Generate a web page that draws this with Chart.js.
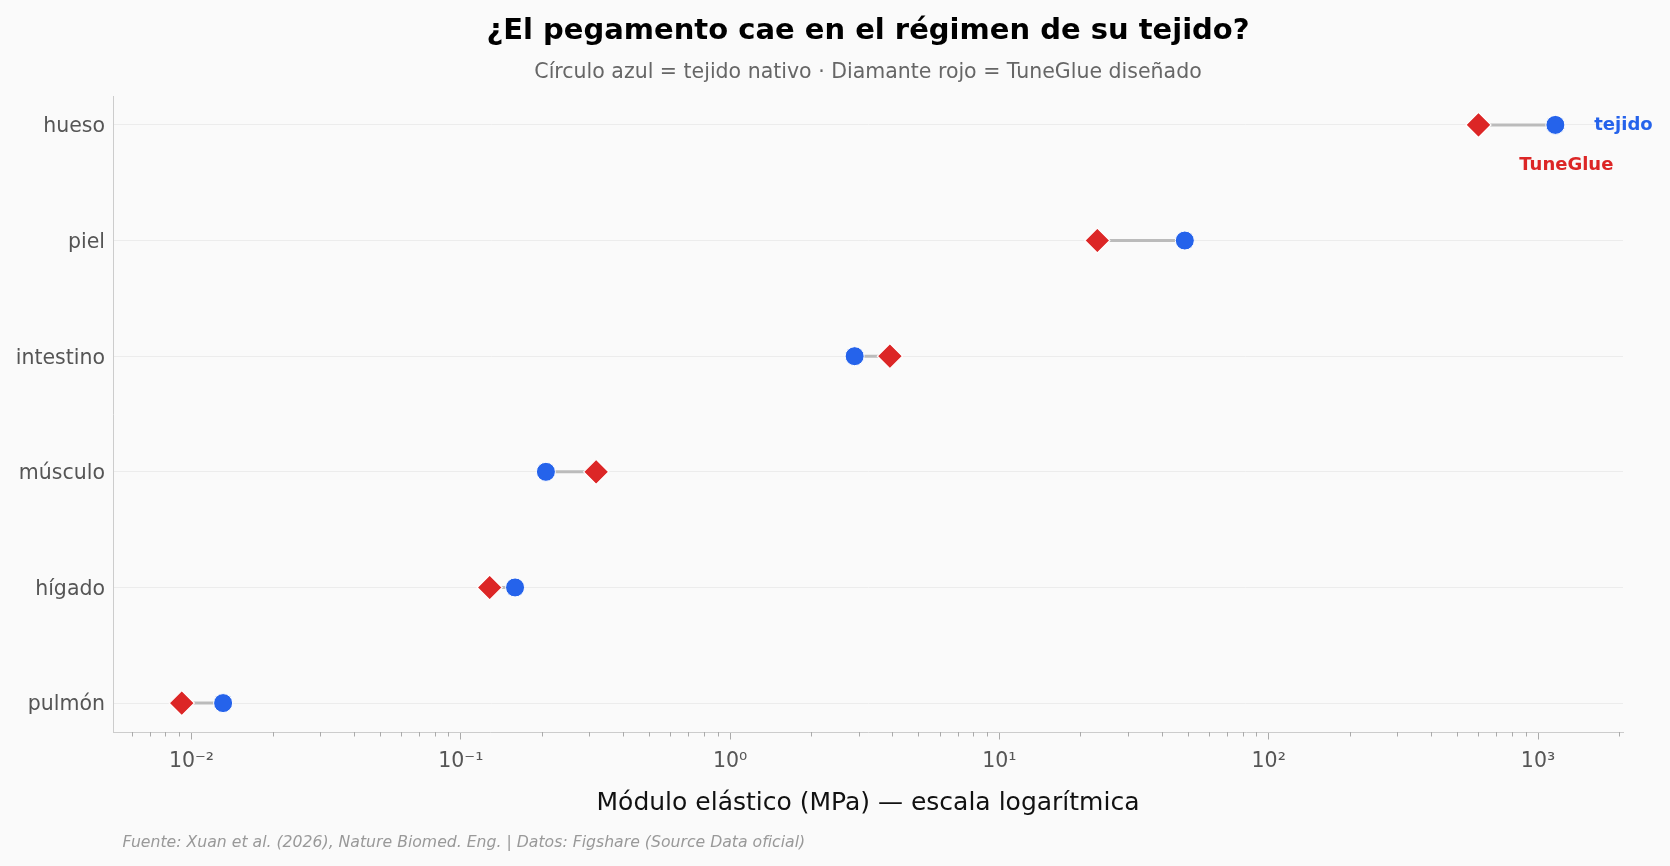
<!DOCTYPE html>
<html lang="es">
<head>
<meta charset="utf-8">
<title>¿El pegamento cae en el régimen de su tejido?</title>
<script src="https://cdn.jsdelivr.net/npm/chart.js@4.4.1/dist/chart.umd.min.js"></script>
<style>
  html, body { margin: 0; padding: 0; background: #fafafa; }
  #wrap { width: 1670px; height: 866px; }
</style>
</head>
<body>
<div id="wrap"><canvas id="glueChart"></canvas></div>
<script>
// Tejidos, de abajo hacia arriba
const tejidos = ["pulmón", "hígado", "músculo", "intestino", "piel", "hueso"];
// Módulo elástico del tejido nativo (MPa)
const moduloTejido = [0.0131, 0.159, 0.207, 2.90, 48.8, 1160];
// Módulo elástico de TuneGlue diseñado (MPa)
const moduloTuneGlue = [0.0092, 0.128, 0.318, 3.92, 23.1, 601];
// Etiquetas del eje x (solo potencias de 10)
const potencias = [0.01, 0.1, 1, 10, 100, 1000];
const etiquetasPotencias = ["10⁻²", "10⁻¹", "10⁰", "10¹", "10²", "10³"];

const AZUL = "#2563eb";
const ROJO = "#dc2626";
const FUENTE = "'DejaVu Sans', sans-serif";

// posición de las notas "tejido" / "TuneGlue" (en unidades de datos)
const notaTejido = { x: 1617, y: 5 };
const notaTuneGlue = { x: 1274, y: 4.65 };

const esPotencia = v => Math.abs(Math.log10(v) - Math.round(Math.log10(v))) < 1e-9;

// Segmentos grises que unen tejido y pegamento
const conectores = tejidos.map((t, i) => ({
    label: "conector " + t,
    data: [{ x: moduloTejido[i], y: i }, { x: moduloTuneGlue[i], y: i }],
    showLine: true,
    borderColor: "#bbbbbb",
    borderWidth: 3,
    pointRadius: 0,
    order: 5
}));

const glueData = {
    datasets: [
        {
            label: "tejido nativo",
            data: tejidos.map((t, i) => ({ x: moduloTejido[i], y: i })),
            pointStyle: "circle",
            pointRadius: 9.5,
            backgroundColor: AZUL,
            borderColor: "#ffffff",
            borderWidth: 1,
            order: 1
        },
        {
            label: "TuneGlue",
            data: tejidos.map((t, i) => ({ x: moduloTuneGlue[i], y: i })),
            pointStyle: "rectRot",
            pointRadius: 12.5,
            backgroundColor: ROJO,
            borderColor: "#ffffff",
            borderWidth: 1.2,
            order: 2
        },
        ...conectores
    ]
};

// Fondo gris muy claro
const fondo = {
    id: "fondo",
    beforeDraw(chart) {
        const ctx = chart.ctx;
        ctx.save();
        ctx.fillStyle = "#fafafa";
        ctx.fillRect(0, 0, chart.width, chart.height);
        ctx.restore();
    }
};

// Ticks menores del eje logarítmico + notas + fuente
const extras = {
    id: "extras",
    afterDraw(chart) {
        const { ctx, scales: { x, y } } = chart;
        ctx.save();
        ctx.strokeStyle = "#aaaaaa";
        ctx.lineWidth = 1;
        x.ticks.forEach(t => {
            if (esPotencia(t.value)) return;
            const px = Math.round(x.getPixelForValue(t.value)) + 0.5;
            ctx.beginPath();
            ctx.moveTo(px, x.top);
            ctx.lineTo(px, x.top + 4.5);
            ctx.stroke();
        });

        ctx.textBaseline = "middle";
        ctx.font = "bold 18px " + FUENTE;
        ctx.fillStyle = AZUL;
        ctx.textAlign = "left";
        ctx.fillText("tejido", x.getPixelForValue(notaTejido.x), y.getPixelForValue(notaTejido.y));
        ctx.fillStyle = ROJO;
        ctx.textAlign = "center";
        ctx.fillText("TuneGlue", x.getPixelForValue(notaTuneGlue.x), y.getPixelForValue(notaTuneGlue.y));

        ctx.font = "italic 15.7px " + FUENTE;
        ctx.fillStyle = "#999999";
        ctx.textAlign = "left";
        ctx.fillText("Fuente: Xuan et al. (2026), Nature Biomed. Eng. | Datos: Figshare (Source Data oficial)", 122.5, 842.5);
        ctx.restore();
    }
};

const glueConfig = {
    type: "scatter",
    data: glueData,
    options: {
        responsive: true,
        maintainAspectRatio: false,
        animation: false,
        events: [],
        layout: { padding: { top: 0, left: 0, right: 47, bottom: 0 } },
        plugins: {
            legend: { display: false },
            tooltip: { enabled: false },
            title: {
                display: true,
                fullSize: false,
                text: "¿El pegamento cae en el régimen de su tejido?",
                color: "#000000",
                font: { family: FUENTE, size: 29, weight: "bold", lineHeight: 1.2 },
                padding: { top: 13.8, bottom: 11.5 }
            },
            subtitle: {
                display: true,
                fullSize: false,
                text: "Círculo azul = tejido nativo · Diamante rojo = TuneGlue diseñado",
                color: "#666666",
                font: { family: FUENTE, size: 20.5, lineHeight: 1.2 },
                padding: { top: 0, bottom: 11.3 }
            }
        },
        scales: {
            x: {
                type: "logarithmic",
                min: 0.00511,
                max: 2068,
                afterBuildTicks(scale) {
                    const ticks = [];
                    for (let e = -3; e <= 3; e++) {
                        for (let m = 1; m <= 9; m++) {
                            const v = m * Math.pow(10, e);
                            if (v >= scale.min && v <= scale.max) ticks.push({ value: v });
                        }
                    }
                    scale.ticks = ticks;
                },
                afterFit(scale) { scale.height = 134; },
                ticks: {
                    autoSkip: false,
                    maxRotation: 0,
                    padding: 10,
                    color: "#555555",
                    font: { family: FUENTE, size: 20.5 },
                    callback: v => esPotencia(v) ? etiquetasPotencias[Math.round(Math.log10(v)) + 2] : ""
                },
                grid: {
                    drawOnChartArea: false,
                    drawTicks: true,
                    tickLength: 7.5,
                    tickColor: ctx => (ctx.tick && esPotencia(ctx.tick.value)) ? "#aaaaaa" : "rgba(0,0,0,0)"
                },
                border: { color: "#cccccc", width: 1 },
                title: {
                    display: true,
                    text: "Módulo elástico (MPa) — escala logarítmica",
                    color: "#111111",
                    font: { family: FUENTE, size: 25, lineHeight: 1.2 },
                    padding: { top: 0, bottom: 48 }
                }
            },
            y: {
                type: "linear",
                min: -0.25,
                max: 5.25,
                afterBuildTicks(scale) {
                    scale.ticks = tejidos.map((t, i) => ({ value: i }));
                },
                afterFit(scale) { scale.width = 113; },
                ticks: {
                    color: "#555555",
                    font: { family: FUENTE, size: 20.5 },
                    padding: 8,
                    labelOffset: 2,
                    callback: v => tejidos[v]
                },
                grid: { color: "#ececec", drawTicks: false },
                border: { color: "#cccccc", width: 1 }
            }
        }
    },
    plugins: [fondo, extras]
};

const glueChart = new Chart(
    document.getElementById("glueChart"),
    glueConfig
);
</script>
</body>
</html>
